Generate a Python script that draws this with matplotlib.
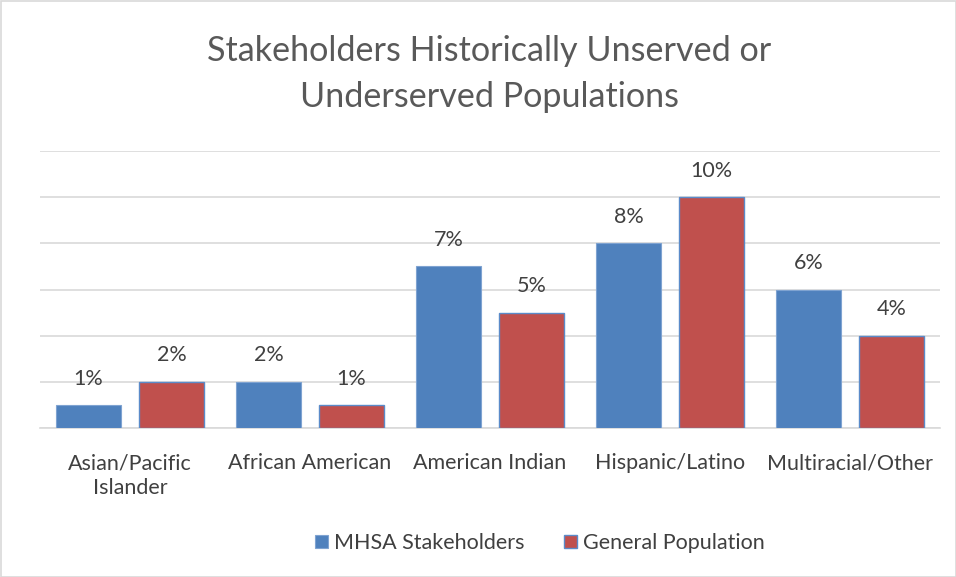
import matplotlib
matplotlib.use("Agg")
import matplotlib.pyplot as plt
import numpy as np
from matplotlib.patches import Rectangle

categories = ["Asian/Pacific\nIslander", "African American", "American Indian", "Hispanic/Latino", "Multiracial/Other"]
mhsa = [1, 2, 7, 8, 6]
general = [2, 1, 5, 10, 4]
series_names = ["MHSA Stakeholders", "General Population"]

plt.rcParams['font.family'] = ['Lato', 'DejaVu Sans']
txt = '#404040'

fig = plt.figure(figsize=(9.56, 5.77), dpi=100)
ax = fig.add_axes([40/956, 1-428/577, 900/956, (428-151)/577])

x = np.arange(len(categories))
w = 0.36
off = 0.23
b1 = ax.bar(x - off, mhsa, w, color='#4F81BD', edgecolor='#7FA3D1', linewidth=0.8, label=series_names[0], zorder=3)
b2 = ax.bar(x + off, general, w, color='#C0504D', edgecolor='#5B8BC9', linewidth=1.0, label=series_names[1], zorder=3)

for bars, vals in ((b1, mhsa), (b2, general)):
    for r, v in zip(bars, vals):
        ax.annotate(f"{v}%", (r.get_x() + r.get_width()/2, v), xytext=(0, 19), textcoords='offset points',
                    ha='center', va='center', fontsize=15.5, color=txt)

ax.set_xlim(-0.5, len(categories) - 0.5)
ax.set_ylim(0, 12)
ax.set_yticks(np.arange(0, 13, 2))
ax.yaxis.grid(True, color='#D9D9D9', linewidth=1.2, zorder=0)
ax.tick_params(axis='y', left=False, labelleft=False)
ax.set_xticks(x)
ax.set_xticklabels(categories, fontsize=15.5, color=txt, linespacing=1.3)
ax.tick_params(axis='x', length=0, pad=18)
for s in ['top', 'right', 'left']:
    ax.spines[s].set_visible(False)
ax.spines['bottom'].set_color('#D9D9D9')
ax.spines['bottom'].set_linewidth(1.2)

fig.text(489/956, 1-74/577, "Stakeholders Historically Unserved or\nUnderserved Populations",
         ha='center', va='center', fontsize=24.6, color='#595959', linespacing=1.55)

fig.legend(handles=[b1, b2], labels=series_names, loc='center', bbox_to_anchor=(540/956, 1-543/577),
           ncol=2, frameon=False, fontsize=15.5, labelcolor=txt, handlelength=0.6, handleheight=0.6,
           columnspacing=1.8, handletextpad=0.3)

fig.patches.append(Rectangle((0.5/956, 0.5/577), 1-1/956, 1-1/577, transform=fig.transFigure,
                             fill=False, edgecolor='#D9D9D9', linewidth=1.2))

fig.savefig("out.png", dpi=100, facecolor='white')
